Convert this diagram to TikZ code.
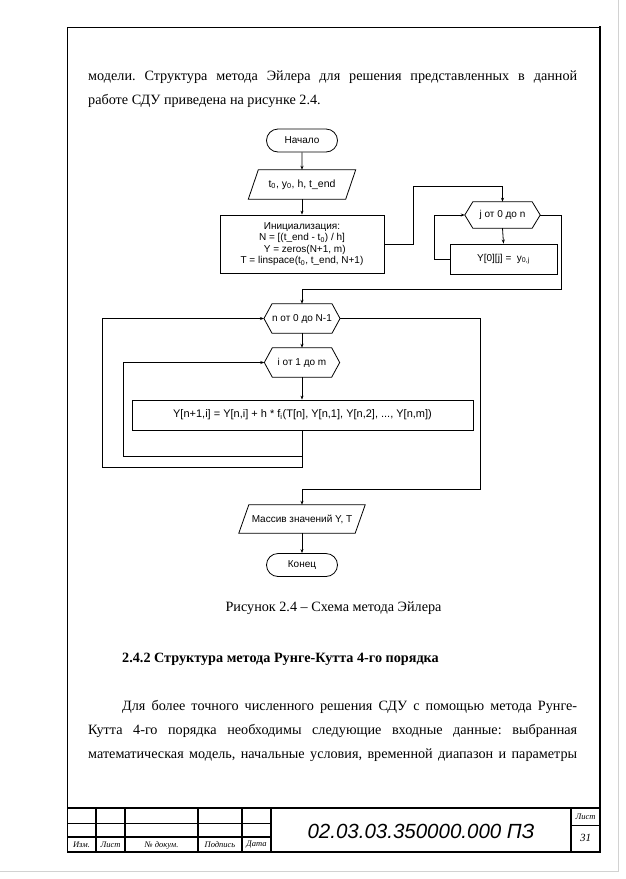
\documentclass[tikz,border=0pt]{standalone}
\usepackage{fontspec}
\setmainfont{Liberation Serif}
\setsansfont{Liberation Sans}
\usetikzlibrary{arrows.meta,shapes.misc,calc}
\newcommand{\sbx}[1]{\textsubscript{#1}}
\frenchspacing
\begin{document}
\begin{tikzpicture}[x=1pt,y=-1pt,
  fc/.style={font=\sffamily\fontsize{10}{11.5}\selectfont},
  blk/.style={fc, draw, line width=0.8pt, align=center, inner sep=2pt},
  term/.style={blk, rounded rectangle, minimum width=75pt, minimum height=23pt},
  proc/.style={blk, rectangle},
  bare/.style={fc, inner sep=0pt, align=center},
  arr/.style={line width=0.8pt, -{Stealth[length=4pt,width=3pt]}},
  ln/.style={line width=0.8pt},
  body/.style={font=\fontsize{14.2}{24}\selectfont, inner sep=0pt, anchor=base west},
  tb/.style={font=\itshape\fontsize{8.5}{9}\selectfont, inner sep=0pt},
  frm/.style={line width=1.8pt},
]
\useasboundingbox (0,0) rectangle (625,879);
% page edge
\draw[gray!35, line width=1pt] (618,0) -- (618,871) -- (0,871);
% frame
\draw[line width=1pt] (600,27) -- (67,27) -- (67,852);
\draw[line width=2.5pt] (600,26) -- (600,853);
\draw[frm] (67,852) -- (600,852);
% title block
\draw[frm] (67,808) -- (600,808);
\foreach \xx in {96,125,198,242,271,571} \draw[frm] (\xx,808) -- (\xx,852);
\draw[line width=1pt] (67,823) -- (271,823);
\draw[frm] (67,837) -- (271,837);
\draw[line width=1pt] (571,825) -- (600,825);
\node[tb] (t1) at (81.5,845) {Изм.};
\node[tb] (t2) at (110.5,845) {Лист};
\node[tb] (t3) at (161.5,845) {№ докум.};
\node[tb] (t4) at (220,845) {Подпись};
\node[tb] (t5) at (256.5,845) {Дата};
\node[tb] (t6) at (585.5,816.5) {Лист};
\node[font=\itshape\fontsize{11}{12}\selectfont, inner sep=0pt] (t7) at (585.5,838) {31};
\node[font=\sffamily\itshape\fontsize{20.5}{22}\selectfont, inner sep=0pt] (code) at (421,831) {02.03.03.350000.000 ПЗ};
% body text
\node[body] (l1) at (88,80) {\makebox[489pt][s]{модели. Структура метода Эйлера для решения представленных в данной}};
\node[body] (l2) at (88,104) {работе СДУ приведена на рисунке 2.4.};
\node[body, anchor=base] (cap) at (333.5,611.5) {Рисунок 2.4 – Схема метода Эйлера};
\node[body, font=\bfseries\fontsize{14.2}{24}\selectfont] (hd) at (122,662.5) {2.4.2 Структура метода Рунге-Кутта 4-го порядка};
\node[body] (p1) at (122,710.5) {\makebox[455pt][s]{Для более точного численного решения СДУ с помощью метода Рунге-}};
\node[body] (p2) at (88,734.5) {\makebox[489pt][s]{Кутта 4-го порядка необходимы следующие входные данные: выбранная}};
\node[body] (p3) at (88,758.5) {\makebox[489pt][s]{математическая модель, начальные условия, временной диапазон и параметры}};
% flowchart
\node[term] (start) at (302,140.5) {Начало};
\node[bare, minimum width=97pt, minimum height=29pt, font=\sffamily\fontsize{10.5}{12}\selectfont] (in) at (302,184.5) {t\sbx{0}, y\sbx{0}, h, t\_end};
\draw[ln] ($(in.south west)+(-5,0)$) -- ($(in.north west)+(5,0)$) -- ($(in.north east)+(5,0)$) -- ($(in.south east)+(-5,0)$) -- cycle;
\node[proc, minimum width=164pt, minimum height=58pt, inner sep=1pt] (init) at (302,244) {Инициализация:\\N = [(t\_end - t\sbx{0}) / h]\\\ \ Y = zeros(N+1, m)\\T = linspace(t\sbx{0}, t\_end, N+1)};
% j loop
\node[bare, minimum width=59pt, minimum height=26pt] (j) at (502.5,215) {j от 0 до n};
\coordinate (jL) at ($(j.west)+(-8,0)$);
\coordinate (jR) at ($(j.east)+(8,0)$);
\draw[ln] (jL) -- (j.north west) -- (j.north east) -- (jR) -- (j.south east) -- (j.south west) -- cycle;
\node[proc, minimum width=107pt, minimum height=30pt] (y0) at (503.5,259) {Y[0][j] =\ \ y\sbx{0,j}};
% n loop
\node[bare, minimum width=59pt, minimum height=29pt] (n) at (302,318.5) {n от 0 до N-1};
\coordinate (nL) at ($(n.west)+(-8,0)$);
\coordinate (nR) at ($(n.east)+(8,0)$);
\draw[ln] (nL) -- (n.north west) -- (n.north east) -- (nR) -- (n.south east) -- (n.south west) -- cycle;
\node[bare, minimum width=59pt, minimum height=29pt] (i) at (302,362.5) {i от 1 до m};
\coordinate (iL) at ($(i.west)+(-8,0)$);
\coordinate (iR) at ($(i.east)+(8,0)$);
\draw[ln] (iL) -- (i.north west) -- (i.north east) -- (iR) -- (i.south east) -- (i.south west) -- cycle;
\node[proc, minimum width=341pt, minimum height=30pt, font=\sffamily\fontsize{11}{12}\selectfont] (body) at (302.5,415) {Y[n+1,i] = Y[n,i] + h * f\sbx{i}(T[n], Y[n,1], Y[n,2], ..., Y[n,m])};
\node[bare, minimum width=116pt, minimum height=28pt] (out) at (302,519) {Массив значений Y, T};
\draw[ln] ($(out.south west)+(-5,0)$) -- ($(out.north west)+(5,0)$) -- ($(out.north east)+(5,0)$) -- ($(out.south east)+(-5,0)$) -- cycle;
\node[term] (end) at (302,565) {Конец};
% connectors
\coordinate (k1) at (413,186);
\coordinate (k2) at (561,289);
\coordinate (k3) at (302,456);
\coordinate (k4) at (123,456);
\coordinate (k5) at (102,467);
\coordinate (k6) at (480,489);
\draw[arr] (start) -- (in);
\draw[arr] (in) -- (init);
\draw[arr] (init.east) -| (k1) -| (j.north);
\draw[arr] (j.south) -- (y0.north);
\draw[arr] (y0.west) -- ++(-15,0) |- (jL);
\draw[arr] (jR) -| (k2) -| (n.north);
\draw[arr] (n.south) -- (i.north);
\draw[arr] (i.south) -- (i.south |- body.north);
\draw[arr] (i.south |- body.south) |- (k4) |- (iL);
\draw[arr] (k3) |- (k5) |- (nL);
\draw[arr] (nR) -| (k6) -| (out.north);
\draw[arr] (out.south) -- (end.north);
\end{tikzpicture}
\end{document}
